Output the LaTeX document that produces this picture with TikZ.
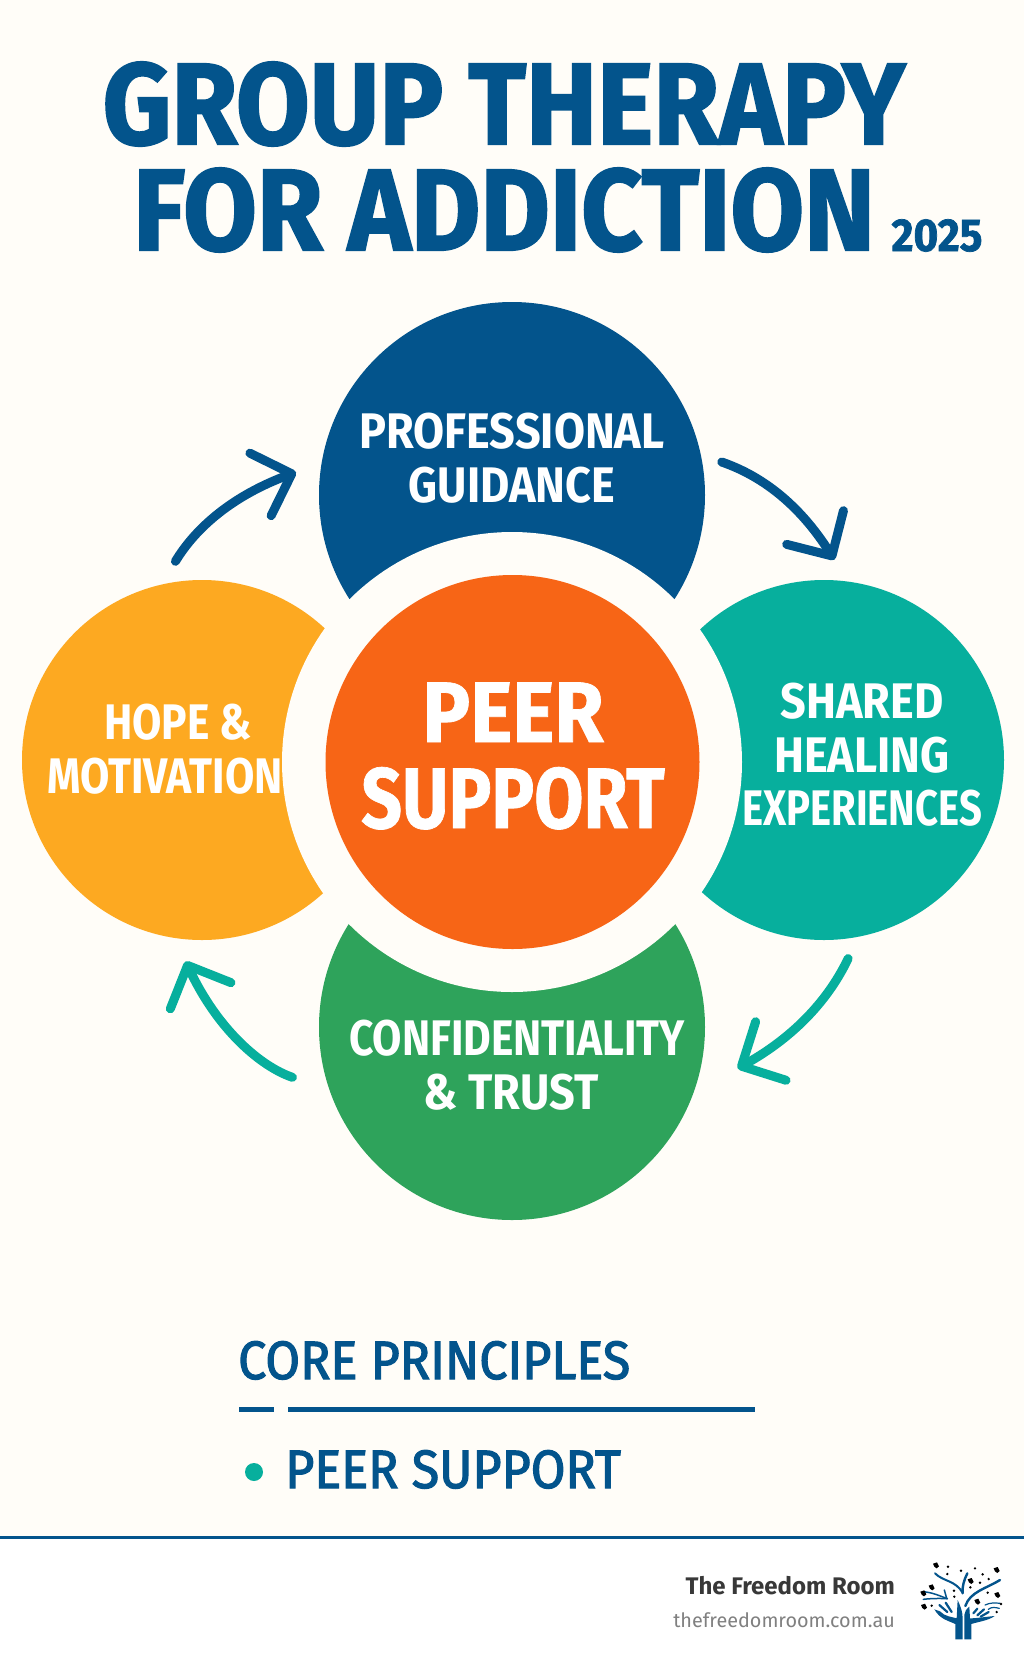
\documentclass[tikz,border=0pt]{standalone}
\usepackage{fontspec}
\usepackage{tikz}
\usetikzlibrary{arrows.meta,bending}
\newfontfamily\titlefont[FakeStretch=0.92,FakeBold=1.6]{Fira Sans}
\newfontfamily\peerfont[FakeStretch=0.93,FakeBold=0.8]{Fira Sans}
\newfontfamily\peerslim[FakeStretch=0.83,FakeBold=0.8]{Fira Sans}
\newfontfamily\lblfont[FakeStretch=0.90]{Fira Sans}
\newfontfamily\lblmid[FakeStretch=0.85]{Fira Sans}
\newfontfamily\lblslim[FakeStretch=0.80]{Fira Sans}
\newfontfamily\corefont[FakeStretch=0.93,FakeBold=2.2]{Fira Sans}
\newfontfamily\footfont{Fira Sans}
\definecolor{paper}{HTML}{FFFDF8}
\definecolor{navy}{HTML}{03548C}
\definecolor{tangerine}{HTML}{F76516}
\definecolor{amber}{HTML}{FDA921}
\definecolor{teal}{HTML}{07AF9D}
\definecolor{leaf}{HTML}{2EA35B}
\begin{document}
\begin{tikzpicture}
  [x=1pt,y=-1pt,>={Straight Barb[length=33pt,width=66pt,round]},
   every node/.style={align=center,inner sep=0pt}]
  \tikzstyle{disc}=[circle,minimum size=360pt]
  \tikzstyle{bigdisc}=[circle,minimum size=386pt]
  \tikzstyle{lbl}=[text=white,font=\lblfont\bfseries\fontsize{50}{53.5}\selectfont]
  \tikzstyle{ttl}=[text=navy,font=\titlefont\bfseries\fontsize{116}{106}\selectfont]
  \tikzstyle{core}=[text=navy,anchor=base west,font=\corefont\fontsize{54}{54}\selectfont]
  \tikzstyle{flow}=[->,line width=9pt,line cap=round]
  \fill[paper] (0,0) rectangle (1024,1666);
  \useasboundingbox (0,0) rectangle (1024,1666);
  \fill[white] (0,1537) rectangle (1024,1666);
  \draw[navy,line width=3pt] (0,1537) -- (1024,1537);

  \node[ttl] (title) at (504,157) {GROUP THERAPY\\FOR ADDICTION};
  \node[text=navy,anchor=base,font=\titlefont\bfseries\fontsize{46}{46}\selectfont] (year) at (937,251) {2025};

  \begin{scope}
    \node[bigdisc,fill=navy] (prof) at (512,495) {};
    \node[bigdisc,fill=leaf] (conf) at (512,1027) {};
    \node[disc,fill=amber] (hope) at (202,760) {};
    \node[disc,fill=teal] (shared) at (824,760) {};
    \node[circle,fill=paper,minimum size=460pt] (gap) at (512,762) {};
    \node[circle,fill=tangerine,minimum size=374pt] (peer) at (512.5,762) {};
  \end{scope}

  \node[lbl] (proflbl) at (512,458) {PROFESSIONAL\\GUIDANCE};
  \node[lbl] (sharedlbl) at (862,755) {SHARED\\HEALING\\{\lblslim EXPERIENCES}};
  \node[lbl] (conflbl) at (517,1065) {{\lblmid CONFIDENTIALITY}\\\& TRUST\hspace*{12pt}};
  \node[lbl,font=\lblmid\bfseries\fontsize{50}{53.5}\selectfont] (hopelbl) at (165,749) {\hspace*{26pt}HOPE \&\\MOTIVATION};
  \node[lbl,font=\peerfont\bfseries\fontsize{86}{86}\selectfont] (peerlbl) at (513,756) {PEER\\{\peerslim SUPPORT}};

  \path (hope.103) edge[flow,navy,bend left=22,shorten <=27pt,shorten >=27pt] (prof.171);
  \path (prof.12) edge[flow,navy,bend left=22,shorten <=22pt,shorten >=25pt] (shared.83);
  \path (shared.281) edge[flow,teal,bend left=22,shorten <=24pt,shorten >=48pt] (conf.342.5);
  \path (conf.199) edge[flow,teal,bend left=26,shorten <=39pt,shorten >=25pt] (hope.262);

  \node[core] (corelbl) at (238,1379) {CORE PRINCIPLES};
  \draw[navy,line width=5pt] (239,1409) -- (274,1409);
  \draw[navy,line width=5pt] (288,1409) -- (755,1409);
  \node[circle,fill=teal,minimum size=18pt] (bullet) at (254,1472) {};
  \node[core] (peeritem) at (285,1488) {PEER SUPPORT};

  \node[anchor=base east,text=black!78,font=\footfont\bfseries\fontsize{24}{24}\selectfont] (brand) at (895,1594) {The Freedom Room};
  \node[anchor=base east,text=black!50,font=\footfont\fontsize{19.8}{19.8}\selectfont] (site) at (895,1627) {thefreedomroom.com.au};

  \begin{scope}[shift={(890,1550)},x=0.3333pt,y=-0.3333pt]
    \fill[navy] (196,268) -- (196,222) .. controls (175,212) and (150,208) .. (133,178) -- (150,184) .. controls (165,200) and (185,200) .. (200,205) -- (203,150) .. controls (212,170) and (218,185) .. (218,205) -- (218,268) -- cycle;
    \fill[navy] (223,268) -- (223,195) .. controls (224,185) and (228,178) .. (238,170) -- (240,205) .. controls (260,205) and (290,200) .. (314,198) .. controls (295,212) and (265,215) .. (244,222) -- (244,268) -- cycle;
    \draw[navy,line width=2.2pt,line cap=round] (148,165) -- (172,186);
    \draw[navy,line width=2.2pt,line cap=round] (167,158) -- (185,186);
    \draw[navy,line width=2.2pt,line cap=round] (250,190) -- (262,176);
    \draw[navy,line width=2.2pt,line cap=round] (262,196) -- (282,178);
    \draw[navy,line width=2.2pt,line cap=round] (272,200) -- (296,186);
    \draw[navy,line width=2pt,line cap=round] (135,70) .. controls (160,95) and (195,90) .. (218,128);
    \draw[navy,line width=2.4pt,line cap=round] (232,70) .. controls (222,90) and (216,110) .. (218,130);
    \draw[navy,line width=2.4pt,line cap=round] (330,90) .. controls (290,115) and (240,125) .. (226,168);
    \draw[navy,line width=1.5pt,line cap=round] (100,125) .. controls (130,128) and (150,138) .. (172,146);
    \draw[navy,line width=1.5pt,line cap=round] (100,148) .. controls (125,145) and (150,145) .. (172,146);
    \draw[navy,line width=1.5pt,line cap=round] (163,120) -- (170,145);
    \draw[navy,line width=1.2pt,line cap=round] (285,165) .. controls (300,158) and (315,158) .. (330,160);
    \draw[navy,line width=1.2pt,line cap=round] (295,178) .. controls (305,170) and (315,172) .. (328,175);
    \foreach \bx/\by in {138/46,320/60,242/93,125/112,100/130,102/170,262/155,322/135}
      \fill[black] (\bx-9,\by-5) -- (\bx+3,\by-9) -- (\bx+9,\by+3) -- (\bx+2,\by+9) -- (\bx-5,\by+4) -- cycle;
    \foreach \bx/\by in {174/50,172/72,213/62,255/55,278/73,296/87,270/98,241/112,192/122,193/140,125/167,293/128,333/162,320/186}
      \fill[black] (\bx,\by) circle (4);
  \end{scope}
\end{tikzpicture}
\end{document}
